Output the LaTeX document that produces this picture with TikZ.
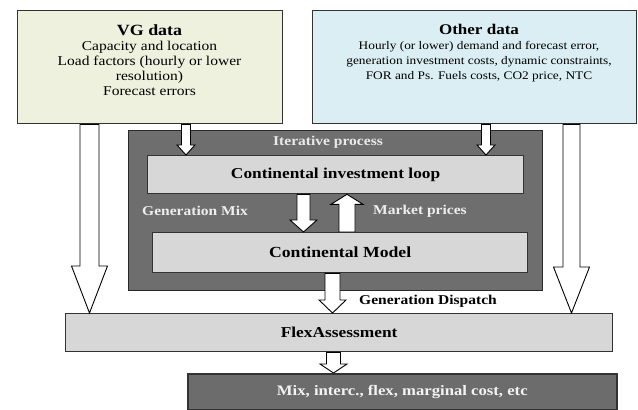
\documentclass[tikz,border=0pt]{standalone}
\usepackage{fontspec}
\setmainfont{Liberation Serif}[FakeStretch=1.15]
\usetikzlibrary{calc}
\definecolor{vgfill}{HTML}{EEF1DD}
\definecolor{otfill}{HTML}{DAEEF3}
\definecolor{darkfill}{HTML}{6E6E6E}
\definecolor{lightfill}{HTML}{D7D7D7}
\definecolor{outfill}{HTML}{6C6C6C}
\definecolor{edge}{HTML}{333333}
\newcommand\barrdown[5]{%
  \filldraw[blockarr] let \p1=(#1), \p2=(#2) in
   (\x2-#3,\y1) -- (\x2-#3,\y2+#5) -- (\x2-#4,\y2+#5) -- (\x2,\y2) --
   (\x2+#4,\y2+#5) -- (\x2+#3,\y2+#5) -- (\x2+#3,\y1) -- cycle;}
\newcommand\barrup[5]{%
  \filldraw[blockarr] let \p1=(#1), \p2=(#2) in
   (\x2-#3,\y1) -- (\x2-#3,\y2-#5) -- (\x2-#4,\y2-#5) -- (\x2,\y2) --
   (\x2+#4,\y2-#5) -- (\x2+#3,\y2-#5) -- (\x2+#3,\y1) -- cycle;}
\begin{document}
\begin{tikzpicture}[x=1pt,y=-1pt,
  box/.style={draw=edge, line width=1.3pt, inner sep=0pt, anchor=north west},
  blockarr/.style={fill=white, draw=black, line width=0.9pt, line join=miter},
  lbl/.style={inner sep=0pt, align=center},
  boldlbl/.style={lbl, font=\fontsize{13.5}{15}\selectfont\bfseries}]
\useasboundingbox (0,0) rectangle (638,410);
\fill[white] (0,0) rectangle (638,410);
% top data boxes
\node[box, fill=vgfill, minimum width=265pt, minimum height=113pt] (vg) at (17,10) {};
\node[lbl, anchor=north, font=\fontsize{13.5}{15}\selectfont] (vgtext) at (149.5,24)
  {{\fontsize{15.6}{15}\selectfont\bfseries VG data}\\[0pt]
   Capacity and location\\ Load factors (hourly or lower\\ resolution)\\ Forecast errors};
\node[box, fill=otfill, minimum width=324pt, minimum height=113pt] (ot) at (312,10) {};
\node[lbl, anchor=north, font=\fontsize{11.6}{15}\selectfont] (ottext) at (479,24)
  {{\fontsize{14.8}{15}\selectfont\bfseries Other data}\\
   Hourly (or lower) demand and forecast error,\\
   generation investment costs, dynamic constraints,\\
   FOR and Ps. Fuels costs, CO2 price, NTC};
% iterative process
\node[box, fill=darkfill, draw=edge!80!black, minimum width=414pt, minimum height=160pt] (iter) at (128,130) {};
\node[boldlbl, text=white!85!darkfill] (itertext) at (328,142) {Iterative process};
\node[box, fill=lightfill, minimum width=376pt, minimum height=38pt] (loop) at (147,155) {};
\node[lbl, font=\fontsize{15.1}{15}\selectfont\bfseries] (looptext) at (loop.center) {Continental investment loop};
\node[box, fill=lightfill, minimum width=375pt, minimum height=40pt] (model) at (152,232) {};
\node[lbl, font=\fontsize{15.4}{15}\selectfont\bfseries] (modeltext) at (model.center) {Continental Model};
\node[boldlbl, text=white!88!darkfill] (genmix) at (195,211) {Generation Mix};
\node[boldlbl, text=white!88!darkfill] (mprice) at (420,211) {Market prices};
% flex assessment
\node[box, fill=lightfill, minimum width=547pt, minimum height=38pt] (flex) at (65,313) {};
\node[lbl, font=\fontsize{15.1}{15}\selectfont\bfseries] (flextext) at (flex.center) {FlexAssessment};
\node[boldlbl] (gendisp) at (428,301) {Generation Dispatch};
% output
\node[box, fill=outfill, line width=1.6pt, minimum width=429pt, minimum height=36pt] (out) at (187,373) {};
\node[lbl, text=white!92!outfill, font=\fontsize{14.5}{15}\selectfont\bfseries] (outtext) at (out.center) {Mix, interc., flex, marginal cost, etc};
% x positions of the arrows
\coordinate (xL) at (89.5,0);
\coordinate (xR) at (571.5,0);
\coordinate (xA) at (186,0);
\coordinate (xB) at (486,0);
\coordinate (xD) at (303.5,0);
\coordinate (xU) at (347,0);
\coordinate (xG) at (332.5,0);
\coordinate (xF) at (333.5,0);
% arrows
\barrdown{vg.south -| xL}{flex.north -| xL}{9.5pt}{18pt}{47pt}
\barrdown{ot.south -| xR}{flex.north -| xR}{8.5pt}{18pt}{46pt}
\barrdown{vg.south -| xA}{loop.north -| xA}{4.5pt}{9pt}{10pt}
\barrdown{ot.south -| xB}{loop.north -| xB}{4.5pt}{9pt}{10pt}
\barrdown{loop.south -| xD}{model.north -| xD}{6.5pt}{13.5pt}{12pt}
\barrup{model.north -| xU}{loop.south -| xU}{8pt}{16pt}{10pt}
\barrdown{model.south -| xG}{flex.north -| xG}{7.5pt}{13.5pt}{13pt}
\barrdown{flex.south -| xF}{out.north -| xF}{7pt}{13.5pt}{9pt}
\end{tikzpicture}
\end{document}
